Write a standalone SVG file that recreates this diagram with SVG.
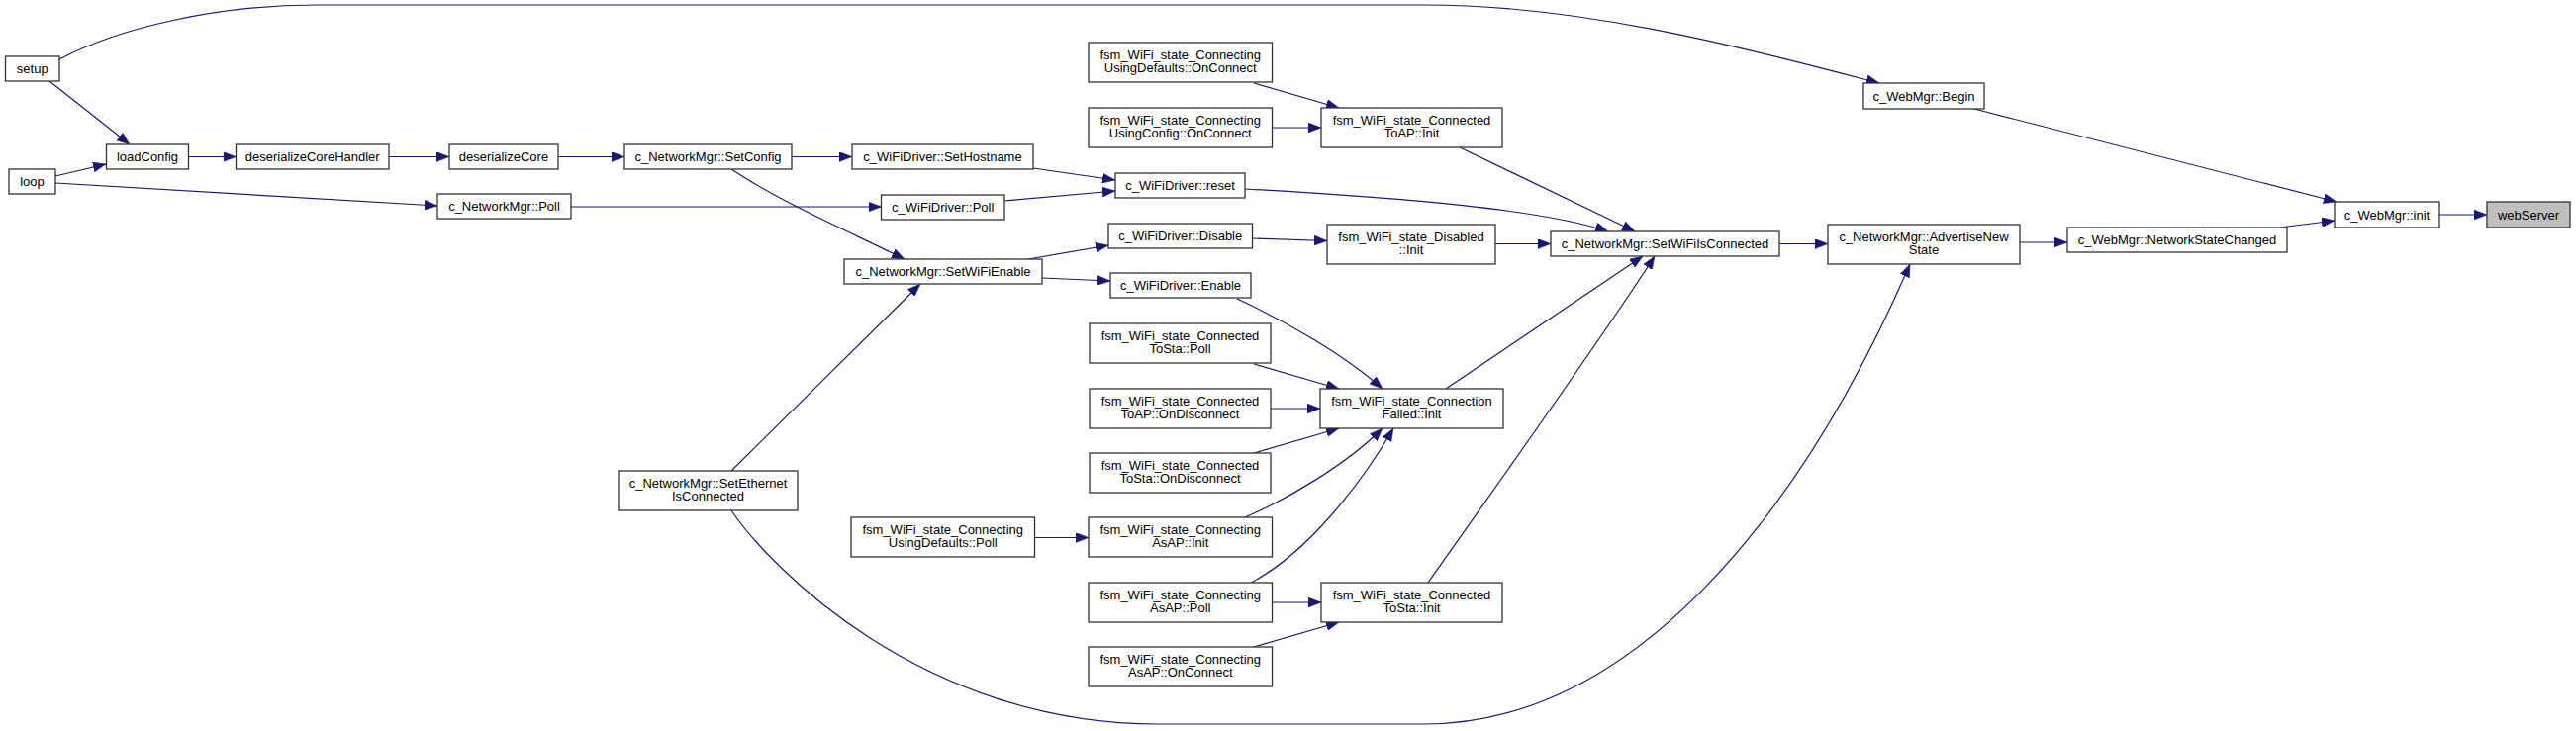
<svg xmlns="http://www.w3.org/2000/svg" width="2603" height="739" viewBox="0 0 2603 739">
<style>
.n rect{fill:#ffffff;stroke:#333333;stroke-width:1.3}
.n.hl rect{fill:#bfbfbf}
.n text{font-family:"Liberation Sans",Arial,sans-serif;font-size:13px;fill:#000000;text-anchor:middle}
.e path{fill:none;stroke:#191970;stroke-width:1.2;marker-end:url(#ah)}
</style>
<defs>
<marker id="ah" markerUnits="userSpaceOnUse" markerWidth="13" markerHeight="10" refX="13" refY="5" orient="auto">
<path d="M0,0 L13,5 L0,10 z" fill="#191970" stroke="#191970" stroke-width="0.5"/>
</marker>
</defs>
<rect x="0" y="0" width="2603" height="739" fill="#ffffff"/>
<g id="edges" class="e">
<path d="M60,60 C120,28 220,5 320,5 L1440,5 C1600,5 1760,48 1899,84"/>
<path d="M50,82 L131,146"/>
<path d="M56,178 L107,166"/>
<path d="M56,185 L442,208"/>
<path d="M191,158.5 L238.5,158.5"/>
<path d="M393,158.5 L454,158.5"/>
<path d="M564,158.5 L631,158.5"/>
<path d="M800,158.5 L861,158.5"/>
<path d="M739,171 C790,205 860,235 914,262"/>
<path d="M577,209 L890.5,209"/>
<path d="M1044,170 L1127,182"/>
<path d="M1015,203 L1127,193"/>
<path d="M1258,191 C1420,200 1560,212 1625,234"/>
<path d="M1475,149 L1652,234"/>
<path d="M1511,246.5 L1567,246.5"/>
<path d="M1443,589 C1520,480 1620,340 1672,259"/>
<path d="M1461,393 L1660,259"/>
<path d="M1798,246.5 L1847,246.5"/>
<path d="M2041,245 L2089,245"/>
<path d="M2307,229.5 L2359,223"/>
<path d="M1995,110 L2361,204"/>
<path d="M2465,217 L2513,217"/>
<path d="M739,516 C775,570 930,732 1170,732 L1439,732 C1650,732 1820,520 1930,267"/>
<path d="M739,476 L930,287"/>
<path d="M1039,262 L1120,248"/>
<path d="M1053,281 L1122,284"/>
<path d="M1265,241 L1341,243.5"/>
<path d="M1267,84 L1353,109"/>
<path d="M1285.5,129 L1335,129"/>
<path d="M1250,302 C1300,325 1360,360 1397,393"/>
<path d="M1267,368 L1353,393"/>
<path d="M1284,413 L1334,413"/>
<path d="M1267,458 L1353,433"/>
<path d="M1258,523 C1300,505 1360,470 1397,433"/>
<path d="M1264,589 C1320,560 1375,490 1408,433"/>
<path d="M1045.5,543.5 L1100,543.5"/>
<path d="M1285.5,609 L1335,609"/>
<path d="M1267,654 L1353,629"/>
</g>
<g id="n_setup" class="n"><rect x="5.5" y="57" width="54.5" height="25"/><text x="32.75" y="74">setup</text></g>
<g id="n_loop" class="n"><rect x="9" y="171" width="47" height="25"/><text x="32.5" y="188">loop</text></g>
<g id="n_loadConfig" class="n"><rect x="107.5" y="146" width="83" height="25"/><text x="149" y="163">loadConfig</text></g>
<g id="n_deserializeCoreHandler" class="n"><rect x="238.5" y="146" width="154.5" height="25"/><text x="315.75" y="163">deserializeCoreHandler</text></g>
<g id="n_deserializeCore" class="n"><rect x="454" y="146" width="110" height="25"/><text x="509" y="163">deserializeCore</text></g>
<g id="n_SetConfig" class="n"><rect x="631" y="146" width="169" height="25"/><text x="715.5" y="163">c_NetworkMgr::SetConfig</text></g>
<g id="n_NMPoll" class="n"><rect x="442" y="196" width="135" height="25"/><text x="509.5" y="213">c_NetworkMgr::Poll</text></g>
<g id="n_SetWiFiEnable" class="n"><rect x="853" y="262" width="200" height="25"/><text x="953" y="279">c_NetworkMgr::SetWiFiEnable</text></g>
<g id="n_SetEthernetIsConnected" class="n"><rect x="625" y="476" width="181" height="40"/><text x="715.5" y="492.5">c_NetworkMgr::SetEthernet</text><text x="715.5" y="506">IsConnected</text></g>
<g id="n_SetHostname" class="n"><rect x="861" y="146" width="183" height="25"/><text x="952.5" y="163">c_WiFiDriver::SetHostname</text></g>
<g id="n_WDPoll" class="n"><rect x="890.5" y="197" width="124.5" height="25"/><text x="952.75" y="214">c_WiFiDriver::Poll</text></g>
<g id="n_reset" class="n"><rect x="1127" y="175" width="131" height="25"/><text x="1192.5" y="192">c_WiFiDriver::reset</text></g>
<g id="n_Disable" class="n"><rect x="1120" y="226" width="145.5" height="25"/><text x="1192.75" y="243">c_WiFiDriver::Disable</text></g>
<g id="n_Enable" class="n"><rect x="1122" y="276" width="142" height="25"/><text x="1193" y="293">c_WiFiDriver::Enable</text></g>
<g id="n_CUD_OnConnect" class="n"><rect x="1100" y="43" width="185.5" height="40"/><text x="1192.75" y="59.5">fsm_WiFi_state_Connecting</text><text x="1192.75" y="73">UsingDefaults::OnConnect</text></g>
<g id="n_CUC_OnConnect" class="n"><rect x="1100" y="109" width="185.5" height="40"/><text x="1192.75" y="125.5">fsm_WiFi_state_Connecting</text><text x="1192.75" y="139">UsingConfig::OnConnect</text></g>
<g id="n_CTAP_Init" class="n"><rect x="1335" y="109" width="183" height="40"/><text x="1426.5" y="125.5">fsm_WiFi_state_Connected</text><text x="1426.5" y="139">ToAP::Init</text></g>
<g id="n_Disabled_Init" class="n"><rect x="1341" y="227" width="170" height="40"/><text x="1426" y="243.5">fsm_WiFi_state_Disabled</text><text x="1426" y="257">::Init</text></g>
<g id="n_CTS_Poll" class="n"><rect x="1101" y="327" width="183" height="40"/><text x="1192.5" y="343.5">fsm_WiFi_state_Connected</text><text x="1192.5" y="357">ToSta::Poll</text></g>
<g id="n_CTAP_OnDisconnect" class="n"><rect x="1101" y="393" width="183" height="40"/><text x="1192.5" y="409.5">fsm_WiFi_state_Connected</text><text x="1192.5" y="423">ToAP::OnDisconnect</text></g>
<g id="n_CF_Init" class="n"><rect x="1334" y="393" width="185" height="40"/><text x="1426.5" y="409.5">fsm_WiFi_state_Connection</text><text x="1426.5" y="423">Failed::Init</text></g>
<g id="n_CTS_OnDisconnect" class="n"><rect x="1101" y="458" width="183" height="40"/><text x="1192.5" y="474.5">fsm_WiFi_state_Connected</text><text x="1192.5" y="488">ToSta::OnDisconnect</text></g>
<g id="n_CUD_Poll" class="n"><rect x="860" y="523" width="185.5" height="40"/><text x="952.75" y="539.5">fsm_WiFi_state_Connecting</text><text x="952.75" y="553">UsingDefaults::Poll</text></g>
<g id="n_CAsAP_Init" class="n"><rect x="1100" y="523" width="185.5" height="40"/><text x="1192.75" y="539.5">fsm_WiFi_state_Connecting</text><text x="1192.75" y="553">AsAP::Init</text></g>
<g id="n_CAsAP_Poll" class="n"><rect x="1100" y="589" width="185.5" height="40"/><text x="1192.75" y="605.5">fsm_WiFi_state_Connecting</text><text x="1192.75" y="619">AsAP::Poll</text></g>
<g id="n_CTS_Init" class="n"><rect x="1335" y="589" width="183" height="40"/><text x="1426.5" y="605.5">fsm_WiFi_state_Connected</text><text x="1426.5" y="619">ToSta::Init</text></g>
<g id="n_CAsAP_OnConnect" class="n"><rect x="1100" y="654" width="185.5" height="40"/><text x="1192.75" y="670.5">fsm_WiFi_state_Connecting</text><text x="1192.75" y="684">AsAP::OnConnect</text></g>
<g id="n_SetWiFiIsConnected" class="n"><rect x="1567" y="234" width="231" height="25"/><text x="1682.5" y="251">c_NetworkMgr::SetWiFiIsConnected</text></g>
<g id="n_AdvertiseNewState" class="n"><rect x="1847" y="227" width="194" height="40"/><text x="1944" y="243.5">c_NetworkMgr::AdvertiseNew</text><text x="1944" y="257">State</text></g>
<g id="n_NetworkStateChanged" class="n"><rect x="2089" y="230" width="222" height="25"/><text x="2200" y="247">c_WebMgr::NetworkStateChanged</text></g>
<g id="n_Begin" class="n"><rect x="1883" y="84" width="122" height="26"/><text x="1944" y="101.5">c_WebMgr::Begin</text></g>
<g id="n_init" class="n"><rect x="2359" y="204" width="106" height="26"/><text x="2412" y="221.5">c_WebMgr::init</text></g>
<g id="n_webServer" class="n hl"><rect x="2513" y="204" width="84" height="26"/><text x="2555" y="221.5">webServer</text></g>
</svg>
